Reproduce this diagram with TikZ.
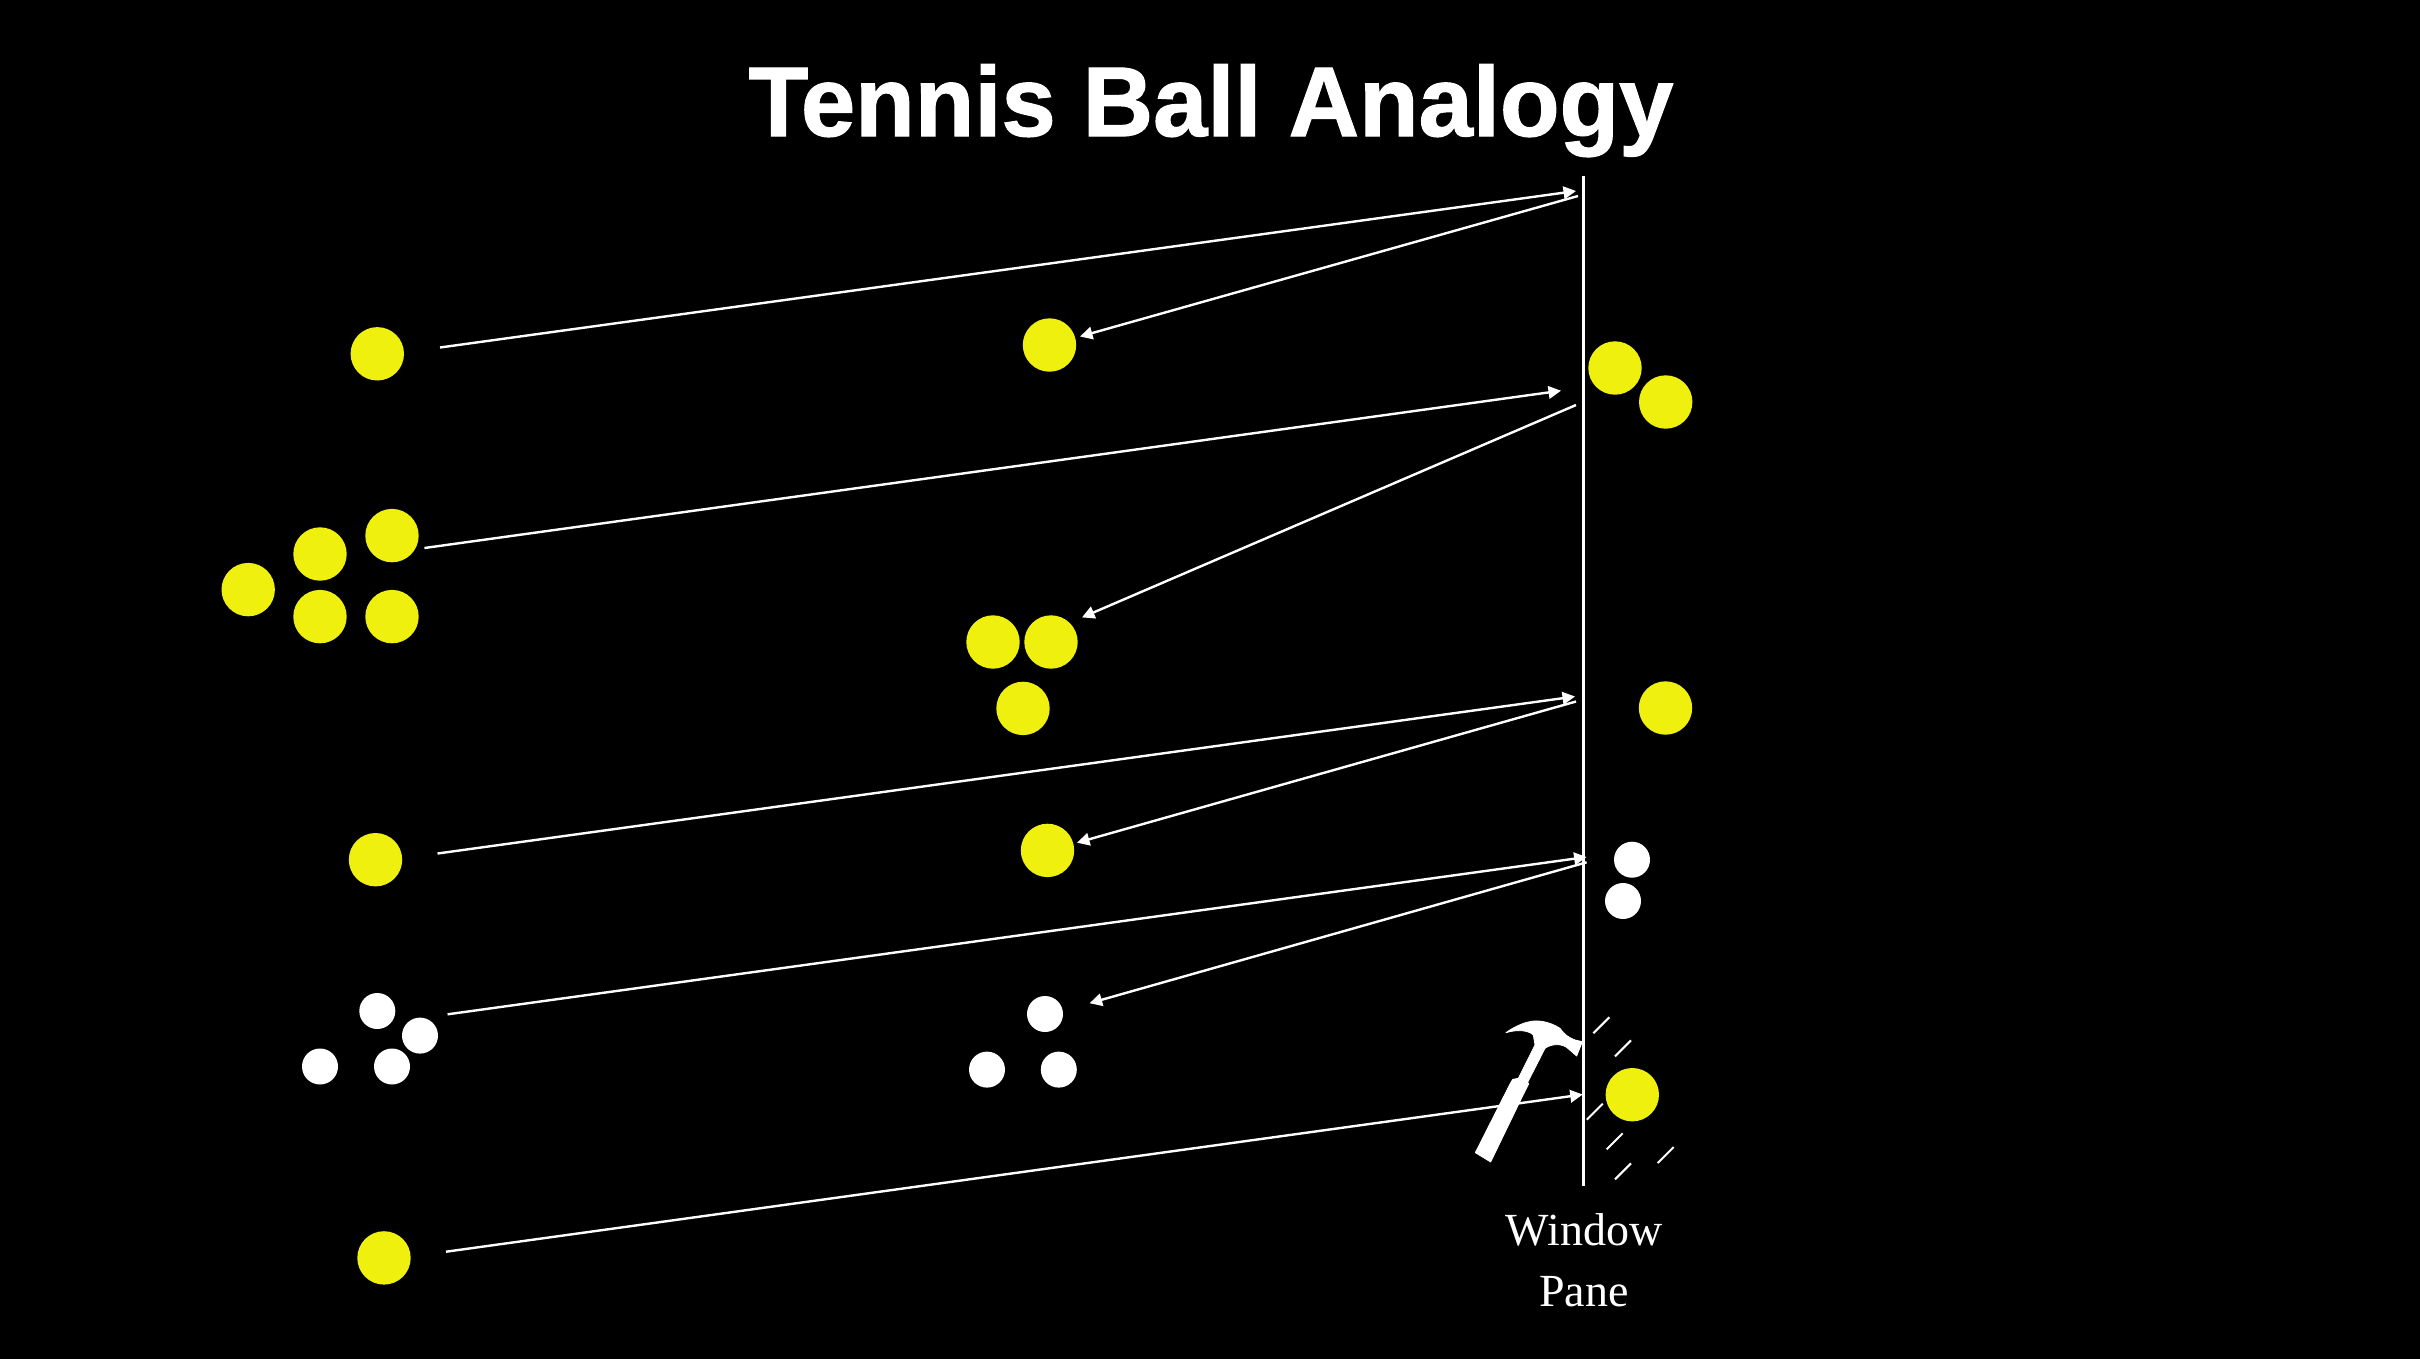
\documentclass[tikz,border=0pt]{standalone}
\usepackage{fontspec}
\setmainfont{Liberation Serif}
\newfontfamily\titlefont{Liberation Sans Bold}[FakeBold=1.2,FakeStretch=0.985]
\usetikzlibrary{arrows.meta}
\definecolor{ballyellow}{HTML}{F0F00F}
\tikzset{
  yball/.style={circle,fill=ballyellow,inner sep=0pt,minimum size=53.4pt},
  wball/.style={circle,fill=white,inner sep=0pt,minimum size=36pt},
  ray/.style={draw=white,line width=2.4pt},
  rayarrow/.style={ray,-{Triangle[length=12.5pt,width=12.5pt]}},
  crack/.style={draw=white,line width=2pt},
  pane/.style={draw=white,line width=3pt},
}
\begin{document}
\begin{tikzpicture}[x=1pt,y=-1pt]
\useasboundingbox (0,0) rectangle (2420,1358);
\fill[black] (-10,-10) rectangle (2430,1368);
\node[anchor=base,text=white,inner sep=0pt,font=\titlefont\fontsize{99}{99}\selectfont] (title) at (1211,136) {Tennis Ball Analogy};
% balls
\node[yball] (a1) at (377.3,353.8) {};
\node[yball] (a2) at (248.2,589.6) {};
\node[yball] (a3) at (320,554) {};
\node[yball] (a4) at (392,535.6) {};
\node[yball] (a5) at (320,616.6) {};
\node[yball] (a6) at (392,616.6) {};
\node[yball] (a7) at (375.5,859.7) {};
\node[wball] (a8) at (377.3,1011) {};
\node[wball] (a9) at (420,1035.6) {};
\node[wball] (a10) at (320,1066.5) {};
\node[wball] (a11) at (392,1066.5) {};
\node[yball] (a12) at (384,1257.9) {};
\node[yball] (b1) at (1049.5,345) {};
\node[yball] (b2) at (993,642) {};
\node[yball] (b3) at (1051,642) {};
\node[yball] (b4) at (1023,708.4) {};
\node[yball] (b5) at (1047.5,850.4) {};
\node[wball] (b6) at (1045,1014) {};
\node[wball] (b7) at (987,1069.6) {};
\node[wball] (b8) at (1058.8,1069.6) {};
\node[yball] (c1) at (1615,368) {};
\node[yball] (c2) at (1665.7,402) {};
\node[yball] (c3) at (1665.5,708) {};
\node[wball] (c4) at (1632,859.7) {};
\node[wball] (c5) at (1623,901) {};
\node[yball] (c6) at (1632.3,1094.7) {};
% pane
\coordinate (pt) at (1583.5,176);
\coordinate (pb) at (1583.5,1186);
\draw[pane] (pt) -- (pb);
\node[anchor=center,text=white,inner sep=0pt,align=center,font=\fontsize{46}{61}\selectfont] (label) at (1584,1260) {Window\\Pane};
% ray ends
\coordinate (s1) at (440,347.5);    \coordinate (e1) at (1576,191);
\coordinate (s2) at (1578,196);   \coordinate (e2) at (1080,336.5);
\coordinate (s3) at (424.4,548);  \coordinate (e3) at (1561,390.7);
\coordinate (s4) at (1576,405);   \coordinate (e4) at (1082,617.4);
\coordinate (s5) at (437.5,853.5);\coordinate (e5) at (1575,696.5);
\coordinate (s6) at (1576,701.5);   \coordinate (e6) at (1077,842.7);
\coordinate (s7) at (447.6,1014.3);\coordinate (e7) at (1586.6,857);
\coordinate (s8) at (1586.6,862.3);\coordinate (e8) at (1089.6,1003.2);
\coordinate (s9) at (446,1251.7); \coordinate (e9) at (1582.7,1094.5);
\foreach \i in {1,...,9} \draw[rayarrow] (s\i) -- (e\i);
% cracks
\foreach \x/\y [count=\n] in {1593.3/1033.3,1615/1056.3,1586.7/1119.7,1606.7/1149.3,1615/1179.3,1657.7/1163}{
  \coordinate (k\n) at (\x,\y);
  \coordinate (m\n) at (\x+16,\y-16);
  \draw[crack] (k\n) -- (m\n);
}
% hammer (zoom coordinates)
\begin{scope}[shift={(1400,960)},x=0.3333pt,y=-0.3333pt]
\filldraw[white,line width=0.8pt,line join=round] (226,578) -- (272,606) -- (362,420) -- (386,372) -- (383,367) -- (435,265)
  .. controls (450,254) and (478,248) .. (500,262)
  -- (530,288) -- (547,245) -- (525,240)
  .. controls (505,232) and (495,225) .. (480,205)
  .. controls (450,185) and (410,178) .. (385,186)
  .. controls (365,190) and (335,205) .. (318,218)
  .. controls (350,208) and (385,210) .. (400,225)
  -- (405,255) -- (355,355) -- (338,358) -- (330,372) -- cycle;
\end{scope}
\end{tikzpicture}
\end{document}
